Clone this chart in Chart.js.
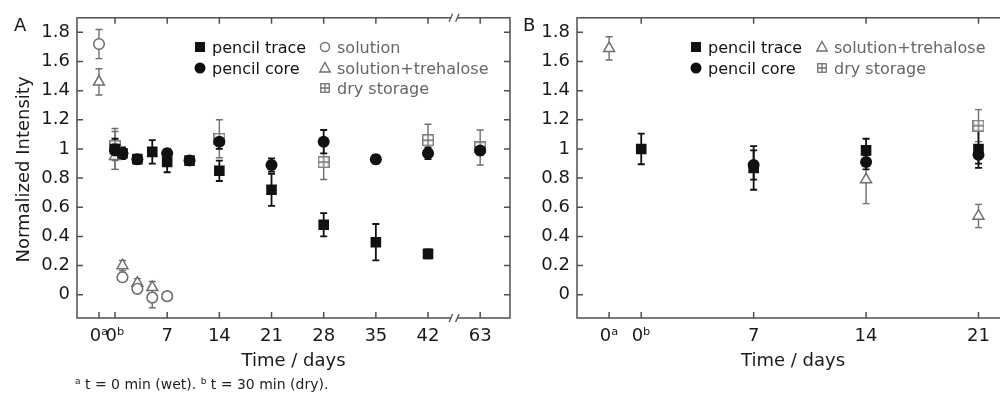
<!DOCTYPE html>
<html>
<head>
<meta charset="utf-8">
<script src="https://cdn.jsdelivr.net/npm/chart.js@4.4.0/dist/chart.umd.min.js"></script>
<style>
  html, body { margin: 0; padding: 0; background: #fff; overflow: hidden; }
  body { width: 1000px; height: 397px; position: relative; font-family: "DejaVu Sans", sans-serif; }
  #panelA { position: absolute; left: 0; top: 0; }
  #panelB { position: absolute; left: 520px; top: 0; }
  .note { position: absolute; left: 75px; top: 376px; font-size: 14px; color: #222; white-space: nowrap; }
  .note sup { font-size: 9px; vertical-align: 5px; }
</style>
</head>
<body>
<canvas id="panelA" width="520" height="397"></canvas>
<canvas id="panelB" width="500" height="397"></canvas>
<div class="note"><sup>a</sup> t = 0 min (wet). <sup>b</sup> t = 30 min (dry).</div>
<script>
// y axis ticks (both panels)
const yTicks = [0, 0.2, 0.4, 0.6, 0.8, 1, 1.2, 1.4, 1.6, 1.8];

// ---- panel A ('0a' = t 0 min wet, '0b' = t 30 min dry) ----
const tickDaysA = ['0a', '0b', 7, 14, 21, 28, 35, 42, 63];
const tickLabelsA = ['0ᵃ', '0ᵇ', '7', '14', '21', '28', '35', '42', '63'];

const traceDaysA = ['0b', 1, 3, 5, 7, 10, 14, 21, 28, 35, 42];
const traceValsA = [1.00, 0.97, 0.93, 0.98, 0.91, 0.92, 0.85, 0.72, 0.48, 0.36, 0.28];
const traceErrA  = [0.07, 0.04, 0.03, 0.08, 0.07, 0.02, 0.07, 0.11, 0.08, 0.125, 0.03];

const coreDaysA = ['0b', 1, 3, 7, 10, 14, 21, 28, 35, 42, 63];
const coreValsA = [0.99, 0.97, 0.93, 0.97, 0.92, 1.05, 0.89, 1.05, 0.93, 0.97, 0.99];
const coreErrA  = [0.04, 0.03, 0.03, 0.03, 0.02, 0.05, 0.045, 0.08, 0.03, 0.04, 0.03];

const solDaysA = ['0a', '0b', 1, 3, 5, 7];
const solValsA = [1.72, 1.00, 0.12, 0.04, -0.02, -0.01];
const solErrA  = [0.10, 0.14, 0.03, 0.03, 0.07, 0.03];

const treDaysA = ['0a', '0b', 1, 3, 5];
const treValsA = [1.46, 0.95, 0.20, 0.08, 0.05];
const treErrA  = [0.09, 0.09, 0.035, 0.03, 0.04];

const dryDaysA = ['0b', 14, 28, 42, 63];
const dryValsA = [1.02, 1.07, 0.91, 1.06, 1.01];
const dryErrA  = [0.10, 0.13, 0.12, 0.11, 0.12];

// ---- panel B ----
const tickDaysB = ['0a', '0b', 7, 14, 21];
const tickLabelsB = ['0ᵃ', '0ᵇ', '7', '14', '21'];

const traceDaysB = ['0b', 7, 14, 21];
const traceValsB = [1.00, 0.87, 0.99, 1.00];
const traceErrB  = [0.105, 0.15, 0.08, 0.13];

const coreDaysB = [7, 14, 21];
const coreValsB = [0.89, 0.91, 0.96];
const coreErrB  = [0.10, 0.05, 0.06];

const treDaysB = ['0a', 14, 21];
const treValsB = [1.69, 0.79, 0.54];
const treErrB  = [0.08, 0.165, 0.08];

const dryDaysB = [21];
const dryValsB = [1.16];
const dryErrB  = [0.11];

const BLACK = '#111111';
const GREY = '#6f6f6f';
const AXIS = '#505050';
const FONT = '"DejaVu Sans", sans-serif';

// axis positions: 0a sits left of 0b, panel A has a break between 42 and 63
function posA(d) {
  if (d === '0a') return -2.15;
  if (d === '0b') return 0;
  return d > 42 ? d - 14 : d;
}
function posB(d) {
  if (d === '0a') return -2;
  if (d === '0b') return 0;
  return d;
}

function toPoints(days, vals, pos) {
  return days.map((d, i) => ({ x: pos(d), y: vals[i] }));
}

// square with a cross for "dry storage"
function dryIcon(size) {
  const c = document.createElement('canvas');
  c.width = size; c.height = size;
  const g = c.getContext('2d');
  g.fillStyle = '#fff';
  g.fillRect(0, 0, size, size);
  g.strokeStyle = GREY;
  g.lineWidth = 1.3;
  g.strokeRect(0.75, 0.75, size - 1.5, size - 1.5);
  g.beginPath();
  g.moveTo(size / 2, 1); g.lineTo(size / 2, size - 1);
  g.moveTo(1, size / 2); g.lineTo(size - 1, size / 2);
  g.stroke();
  return c;
}
const dryMark = dryIcon(12);
const dryMarkSmall = dryIcon(10);

function seriesSet(kind, label, days, vals, errs, pos) {
  const base = { label: label, data: toPoints(days, vals, pos), errors: errs, showLine: false };
  if (kind === 'trace') return Object.assign(base, { pointStyle: 'rect', pointRadius: 7.5, backgroundColor: BLACK, borderColor: BLACK, borderWidth: 0, errColor: BLACK, errWidth: 1.8 });
  if (kind === 'core') return Object.assign(base, { pointStyle: 'circle', pointRadius: 6, backgroundColor: BLACK, borderColor: BLACK, borderWidth: 0, errColor: BLACK, errWidth: 1.8 });
  if (kind === 'sol') return Object.assign(base, { pointStyle: 'circle', pointRadius: 5.3, backgroundColor: '#fff', borderColor: GREY, borderWidth: 1.6, errColor: GREY, errWidth: 1.4 });
  if (kind === 'tre') return Object.assign(base, { pointStyle: 'triangle', pointRadius: 6.3, backgroundColor: '#fff', borderColor: GREY, borderWidth: 1.5, errColor: GREY, errWidth: 1.4 });
  return Object.assign(base, { pointStyle: dryMark, pointRadius: 6, errColor: GREY, errWidth: 1.4 });
}

function legendMark(ctx, kind, x, y) {
  ctx.save();
  ctx.lineWidth = 1.4;
  if (kind === 'trace') {
    ctx.fillStyle = BLACK; ctx.fillRect(x - 5, y - 5, 10, 10);
  } else if (kind === 'core') {
    ctx.fillStyle = BLACK; ctx.beginPath(); ctx.arc(x, y, 5.5, 0, Math.PI * 2); ctx.fill();
  } else if (kind === 'sol') {
    ctx.strokeStyle = GREY; ctx.beginPath(); ctx.arc(x, y, 4.5, 0, Math.PI * 2); ctx.stroke();
  } else if (kind === 'tre') {
    ctx.strokeStyle = GREY; ctx.beginPath();
    ctx.moveTo(x, y - 5.5); ctx.lineTo(x + 5.2, y + 4); ctx.lineTo(x - 5.2, y + 4); ctx.closePath(); ctx.stroke();
  } else {
    ctx.drawImage(dryMarkSmall, x - 5, y - 5);
  }
  ctx.restore();
}

// error bars, frame with inward ticks, axis break, legend and titles
function makeDecor(cfg) {
  return {
    id: 'decor',
    beforeDatasetsDraw(chart) {
      const ctx = chart.ctx, ys = chart.scales.y;
      const sets = chart.data.datasets;
      for (let i = sets.length - 1; i >= 0; i--) {
        const ds = sets[i];
        const meta = chart.getDatasetMeta(i);
        ctx.save();
        ctx.strokeStyle = ds.errColor;
        ctx.lineWidth = ds.errWidth;
        meta.data.forEach((pt, j) => {
          const v = ds.data[j].y, e = ds.errors[j];
          const top = ys.getPixelForValue(v + e), bot = ys.getPixelForValue(v - e);
          ctx.beginPath();
          ctx.moveTo(pt.x, top); ctx.lineTo(pt.x, bot);
          ctx.moveTo(pt.x - 3.5, top); ctx.lineTo(pt.x + 3.5, top);
          ctx.moveTo(pt.x - 3.5, bot); ctx.lineTo(pt.x + 3.5, bot);
          ctx.stroke();
        });
        ctx.restore();
      }
    },
    afterDraw(chart) {
      const ctx = chart.ctx, a = chart.chartArea;
      const xs = chart.scales.x, ys = chart.scales.y;
      ctx.save();
      ctx.strokeStyle = AXIS;
      ctx.lineWidth = 1.5;
      ctx.strokeRect(a.left, a.top, a.right - a.left, a.bottom - a.top);
      ctx.beginPath();
      xs.ticks.forEach((t, i) => {
        const px = xs.getPixelForValue(t.value);
        ctx.moveTo(px, a.bottom); ctx.lineTo(px, a.bottom - 6);
        if (i > 0) { ctx.moveTo(px, a.top); ctx.lineTo(px, a.top + 6); }
      });
      ys.ticks.forEach(t => {
        const py = ys.getPixelForValue(t.value);
        ctx.moveTo(a.left, py); ctx.lineTo(a.left + 6, py);
        ctx.moveTo(a.right, py); ctx.lineTo(a.right - 6, py);
      });
      ctx.stroke();

      if (cfg.breakAt !== undefined) {
        const bx = xs.getPixelForValue(cfg.breakAt);
        [a.top, a.bottom].forEach(by => {
          ctx.fillStyle = '#fff';
          ctx.fillRect(bx - 3, by - 3, 6, 6);
          ctx.beginPath();
          ctx.moveTo(bx - 5, by + 4); ctx.lineTo(bx - 1.5, by - 4);
          ctx.moveTo(bx + 1.5, by + 4); ctx.lineTo(bx + 5, by - 4);
          ctx.lineWidth = 1.3;
          ctx.stroke();
        });
      }

      // legend
      ctx.font = '16px ' + FONT;
      ctx.textBaseline = 'alphabetic';
      ctx.textAlign = 'left';
      cfg.legend.forEach(item => {
        legendMark(ctx, item.kind, item.x, item.y);
        ctx.fillStyle = (item.kind === 'trace' || item.kind === 'core') ? BLACK : '#666';
        ctx.fillText(item.text, item.x + 12, item.y + 6);
      });

      // panel letter and axis titles
      ctx.fillStyle = '#1a1a1a';
      ctx.font = '18px ' + FONT;
      ctx.fillText(cfg.letter, cfg.letterX, 31);
      ctx.textAlign = 'center';
      ctx.fillText('Time / days', (a.left + a.right) / 2, 365.5);
      if (cfg.yTitle) {
        ctx.translate(28.5, 169.5);
        ctx.rotate(-Math.PI / 2);
        ctx.fillText(cfg.yTitle, 0, 0);
      }
      ctx.restore();
    }
  };
}

function makeChart(id, opt) {
  const tickFont = { family: FONT, size: 18 };
  return new Chart(document.getElementById(id), {
    type: 'scatter',
    data: { datasets: opt.datasets },
    options: {
      responsive: false,
      animation: false,
      devicePixelRatio: 1,
      layout: { padding: { left: 0, top: 11, right: opt.padRight, bottom: 0 } },
      plugins: { legend: { display: false }, tooltip: { enabled: false } },
      scales: {
        x: {
          type: 'linear',
          min: opt.xMin,
          max: opt.xMax,
          grid: { display: false, drawTicks: false },
          border: { display: false },
          afterBuildTicks: s => { s.ticks = opt.tickDays.map(d => ({ value: opt.pos(d) })); },
          afterFit: s => { s.height = 79; },
          ticks: {
            autoSkip: false,
            maxRotation: 0,
            padding: 8,
            color: '#1a1a1a',
            font: tickFont,
            callback: (v, i) => opt.tickLabels[i]
          }
        },
        y: {
          min: -0.16,
          max: 1.9,
          grid: { display: false, drawTicks: false },
          border: { display: false },
          afterBuildTicks: s => { s.ticks = yTicks.map(v => ({ value: v })); },
          afterFit: s => { s.width = opt.yWidth; },
          ticks: {
            padding: 7,
            color: '#1a1a1a',
            font: tickFont,
            callback: v => String(Math.round(v * 10) / 10)
          }
        }
      }
    },
    plugins: [makeDecor(opt.decor)]
  });
}

makeChart('panelA', {
  xMin: -5.1, xMax: 53.0, padRight: 10, yWidth: 77,
  tickDays: tickDaysA, tickLabels: tickLabelsA, pos: posA,
  datasets: [
    seriesSet('core', 'pencil core', coreDaysA, coreValsA, coreErrA, posA),
    seriesSet('trace', 'pencil trace', traceDaysA, traceValsA, traceErrA, posA),
    seriesSet('sol', 'solution', solDaysA, solValsA, solErrA, posA),
    seriesSet('tre', 'solution+trehalose', treDaysA, treValsA, treErrA, posA),
    seriesSet('dry', 'dry storage', dryDaysA, dryValsA, dryErrA, posA)
  ],
  decor: {
    letter: 'A', letterX: 14, yTitle: 'Normalized Intensity', breakAt: 45.5,
    legend: [
      { kind: 'trace', text: 'pencil trace', x: 200, y: 47 },
      { kind: 'core', text: 'pencil core', x: 200, y: 68 },
      { kind: 'sol', text: 'solution', x: 325, y: 47 },
      { kind: 'tre', text: 'solution+trehalose', x: 325, y: 68 },
      { kind: 'dry', text: 'dry storage', x: 325, y: 88 }
    ]
  }
});

makeChart('panelB', {
  xMin: -4, xMax: 22.9, padRight: 11, yWidth: 57,
  tickDays: tickDaysB, tickLabels: tickLabelsB, pos: posB,
  datasets: [
    seriesSet('core', 'pencil core', coreDaysB, coreValsB, coreErrB, posB),
    seriesSet('trace', 'pencil trace', traceDaysB, traceValsB, traceErrB, posB),
    seriesSet('dry', 'dry storage', dryDaysB, dryValsB, dryErrB, posB),
    seriesSet('tre', 'solution+trehalose', treDaysB, treValsB, treErrB, posB)
  ],
  decor: {
    letter: 'B', letterX: 3,
    legend: [
      { kind: 'trace', text: 'pencil trace', x: 176, y: 47 },
      { kind: 'core', text: 'pencil core', x: 176, y: 68 },
      { kind: 'tre', text: 'solution+trehalose', x: 302, y: 47 },
      { kind: 'dry', text: 'dry storage', x: 302, y: 68 }
    ]
  }
});
</script>
</body>
</html>
